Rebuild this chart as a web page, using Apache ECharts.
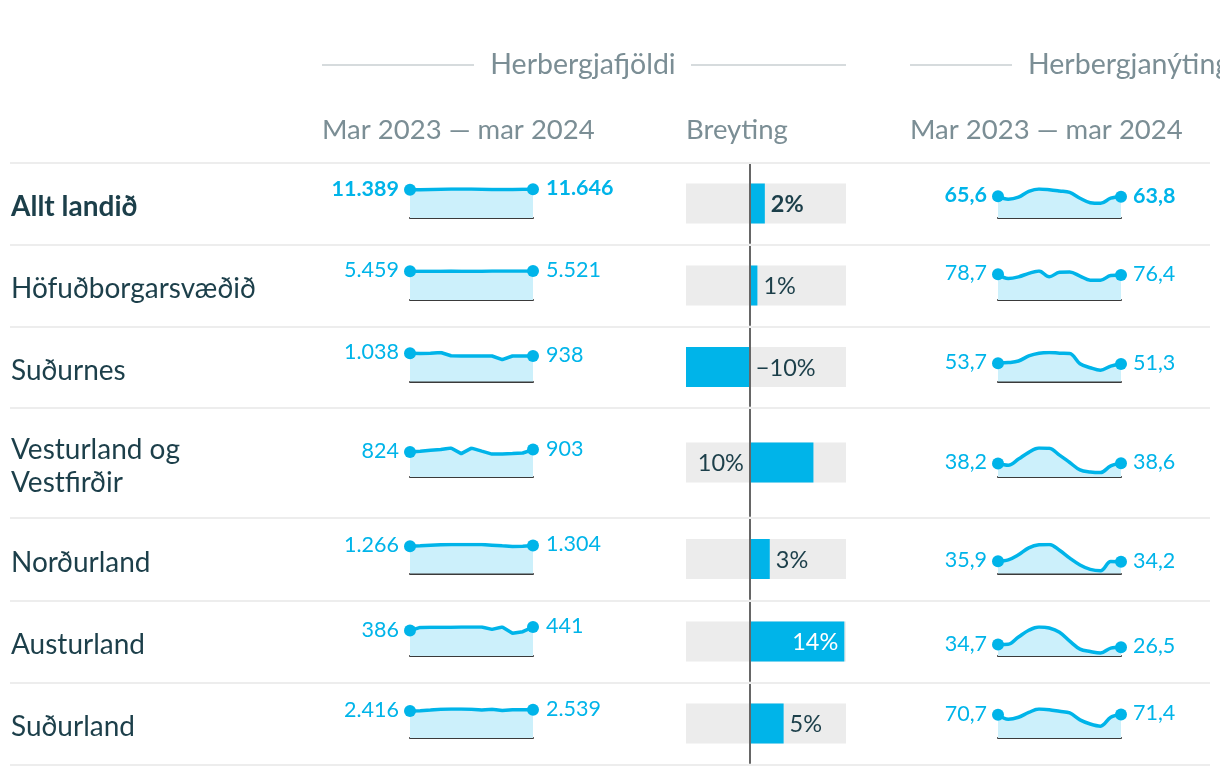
<!DOCTYPE html>
<html>
<head>
<meta charset="utf-8">
<script src="https://cdn.jsdelivr.net/npm/echarts@6/dist/echarts.min.js"></script>
<style>
  html, body { margin: 0; padding: 0; background: #ffffff; }
  #chart { width: 1220px; height: 776px; }
</style>
</head>
<body>
<div id="chart"></div>
<script>
// ---------------- DATA ----------------
const months = ['mar 2023','apr','maí','jún','júl','ágú','sep','okt','nóv','des','jan 2024','feb','mar 2024'];
const regions = ['Allt landið','Höfuðborgarsvæðið','Suðurnes','Vesturland og\nVestfirðir','Norðurland','Austurland','Suðurland'];

// Herbergjafjöldi (room count), mar 2023 – mar 2024
const roomsAllt      = [11389, 11450, 11550, 11650, 11700, 11720, 11700, 11650, 11520, 11490, 11530, 11600, 11646];
const roomsHofud     = [5459, 5470, 5480, 5490, 5500, 5485, 5475, 5485, 5500, 5510, 5500, 5510, 5521];
const roomsSudurnes  = [1038, 1025, 1035, 1064, 945, 940, 940, 938, 936, 800, 936, 938, 938];
const roomsVestur    = [824, 850, 880, 905, 955, 770, 950, 850, 755, 760, 770, 790, 903];
const roomsNordur    = [1266, 1290, 1320, 1345, 1352, 1352, 1350, 1350, 1320, 1290, 1262, 1270, 1304];
const roomsAustur    = [386, 435, 437, 436, 438, 440, 441, 441, 405, 441, 345, 370, 441];
const roomsSudur     = [2416, 2450, 2500, 2580, 2600, 2595, 2580, 2500, 2580, 2460, 2540, 2540, 2539];

// Herbergjanýting (occupancy %), mar 2023 – mar 2024
const occAllt        = [65.6, 56.4, 62.5, 79.6, 87.0, 84.8, 81.0, 76.6, 59.4, 46.0, 44.0, 59.4, 63.8];
const occHofud       = [78.7, 65.7, 70.7, 81.3, 88.5, 70.7, 84.4, 85.4, 72.9, 60.4, 60.4, 75.0, 76.4];
const occSudurnes    = [53.7, 55.4, 60.0, 74.8, 83.0, 85.0, 83.0, 82.0, 52.0, 40.4, 33.0, 45.0, 51.3];
const occVestur      = [38.2, 33.4, 50.6, 69.7, 82.0, 81.0, 62.0, 41.0, 20.0, 14.3, 12.6, 31.4, 38.6];
const occNordur      = [35.9, 40.0, 55.0, 75.0, 84.0, 85.0, 68.0, 45.0, 25.0, 12.0, 8.0, 35.0, 34.2];
const occAustur      = [34.7, 35.5, 57.6, 78.0, 88.0, 85.0, 72.0, 45.0, 21.0, 13.7, 9.0, 24.0, 26.5];
const occSudur       = [70.7, 57.0, 63.0, 77.5, 88.0, 86.0, 81.0, 76.0, 55.0, 42.5, 36.0, 63.0, 71.4];

const headerGroups = ['Herbergjafjöldi', 'Herbergjanýting'];
const periodLabel = 'Mar 2023 — mar 2024';
const changeLabel = 'Breyting';

// ---------------- BUILD ----------------
const roomsData = [roomsAllt, roomsHofud, roomsSudurnes, roomsVestur, roomsNordur, roomsAustur, roomsSudur];
const occData = [occAllt, occHofud, occSudurnes, occVestur, occNordur, occAustur, occSudur];
const changes = roomsData.map(a => (a[a.length - 1] / a[0] - 1) * 100);

const CYAN = '#00b4e9';
const FILL = '#ccf0fb';
const DARK = '#1c3f4a';
const GREY_TEXT = '#7b8e95';
const FONT = 'Lato';

const rowEdges = [163, 245, 327, 408, 518, 601, 683, 765];

const fmtRooms = v => String(Math.round(v)).replace(/\B(?=(\d{3})+(?!\d))/g, '.');
const fmtOcc = v => v.toFixed(1).replace('.', ',');
const fmtPct = v => (Math.round(v) < 0 ? '\u2212' + Math.abs(Math.round(v)) : Math.round(v)) + '%';

const grids = [], xAxes = [], yAxes = [], series = [], graphics = [];

function sparkItems(arr, fmt, bold, rDist) {
  const n = arr.length;
  return arr.map((v, i) => {
    if (i === 0 || i === n - 1) {
      return {
        value: v,
        symbol: 'circle',
        symbolSize: 12,
        label: {
          show: true,
          position: i === 0 ? 'left' : 'right',
          distance: i === 0 ? 5 : rDist,
          formatter: p => fmt(p.value),
          color: CYAN,
          fontFamily: FONT,
          fontSize: 21.5,
          fontWeight: bold ? 'bold' : 'normal',
          offset: [0, -1]
        }
      };
    }
    return { value: v, symbol: 'none' };
  });
}

function addSpark(r, left, arr, fmt, smooth, rDist) {
  const center = (rowEdges[r] + rowEdges[r + 1]) / 2;
  const gi = grids.length;
  grids.push({ left: left, width: 123, top: center - 15, height: 29, containLabel: false });
  xAxes.push({
    type: 'category', gridIndex: gi, data: months, boundaryGap: false,
    axisLine: { show: true, lineStyle: { color: '#3a3a3a', width: 2 } },
    axisTick: { show: false }, axisLabel: { show: false }, splitLine: { show: false }
  });
  yAxes.push({
    type: 'value', gridIndex: gi, min: 0, max: 'dataMax',
    axisLine: { show: false }, axisTick: { show: false }, axisLabel: { show: false }, splitLine: { show: false }
  });
  series.push({
    type: 'line', xAxisIndex: gi, yAxisIndex: gi,
    data: sparkItems(arr, fmt, r === 0, rDist),
    smooth: smooth,
    showAllSymbol: true,
    lineStyle: { color: CYAN, width: 3.5 },
    itemStyle: { color: CYAN },
    areaStyle: { color: FILL, opacity: 1 },
    emphasis: { disabled: true },
    silent: true,
    animation: false,
    z: 3
  });
}

const chMin = Math.min.apply(null, changes);

for (let r = 0; r < regions.length; r++) {
  const top = rowEdges[r], bottom = rowEdges[r + 1];
  const center = (top + bottom) / 2;

  // row label
  graphics.push({
    type: 'text', x: 11, y: center + 3,
    style: {
      text: regions[r], fill: DARK, font: (r === 0 ? 'bold ' : '') + '28px ' + FONT,
      lineHeight: 33, align: 'left', verticalAlign: 'middle'
    }
  });

  // sparklines
  addSpark(r, 410, roomsData[r], fmtRooms, false, 7);
  addSpark(r, 998, occData[r], fmtOcc, 0.35, 6);

  // change bar
  const gi = grids.length;
  grids.push({ left: 686, width: 160, top: top + 1, height: bottom - top - 3 });
  xAxes.push({
    type: 'value', gridIndex: gi, min: chMin, max: 14.5,
    axisLine: { show: false }, axisTick: { show: false }, axisLabel: { show: false }, splitLine: { show: false }
  });
  yAxes.push({
    type: 'category', gridIndex: gi, data: [regions[r]],
    axisLine: { show: true, onZero: true, lineStyle: { color: '#666666', width: 2 } },
    axisTick: { show: false }, axisLabel: { show: false }, splitLine: { show: false }, z: 5
  });
  const v = changes[r];
  let pos = 'right', col = DARK;
  if (v > 12) { pos = 'insideRight'; col = '#ffffff'; }
  else if (v > 8) { pos = 'left'; }
  series.push({
    type: 'bar', xAxisIndex: gi, yAxisIndex: gi,
    data: [v], barWidth: 40,
    showBackground: true,
    backgroundStyle: { color: '#ececec' },
    itemStyle: { color: CYAN },
    label: {
      show: true, position: pos, distance: 6, color: col,
      fontFamily: FONT, fontSize: 23.5, fontWeight: r === 0 ? 'bold' : 'normal',
      formatter: p => fmtPct(p.value), offset: [0, 1]
    },
    emphasis: { disabled: true },
    silent: true,
    animation: false
  });
}

// separators
for (let i = 0; i < rowEdges.length; i++) {
  graphics.push({
    type: 'line', shape: { x1: 10, y1: rowEdges[i], x2: 1210, y2: rowEdges[i] },
    style: { stroke: '#ededed', lineWidth: 2 }, z: 10
  });
}

// headers
graphics.push({ type: 'line', shape: { x1: 322, y1: 65, x2: 474, y2: 65 }, style: { stroke: '#c8cfd2', lineWidth: 1.5 } });
graphics.push({ type: 'line', shape: { x1: 691, y1: 65, x2: 846, y2: 65 }, style: { stroke: '#c8cfd2', lineWidth: 1.5 } });
graphics.push({ type: 'line', shape: { x1: 910, y1: 65, x2: 1012, y2: 65 }, style: { stroke: '#c8cfd2', lineWidth: 1.5 } });
const HF = '28.5px ' + FONT;
const SF = '27.5px ' + FONT;
graphics.push({ type: 'text', x: 583, y: 65, style: { text: headerGroups[0], fill: GREY_TEXT, font: HF, align: 'center', verticalAlign: 'middle' } });
graphics.push({ type: 'text', x: 1028, y: 65, style: { text: headerGroups[1], fill: GREY_TEXT, font: HF, align: 'left', verticalAlign: 'middle' } });
graphics.push({ type: 'text', x: 322, y: 130, style: { text: periodLabel, fill: GREY_TEXT, font: SF, align: 'left', verticalAlign: 'middle' } });
graphics.push({ type: 'text', x: 686, y: 130, style: { text: changeLabel, fill: GREY_TEXT, font: SF, align: 'left', verticalAlign: 'middle' } });
graphics.push({ type: 'text', x: 910, y: 130, style: { text: periodLabel, fill: GREY_TEXT, font: SF, align: 'left', verticalAlign: 'middle' } });

const chart = echarts.init(document.getElementById('chart'), null, { renderer: 'canvas' });
chart.setOption({
  backgroundColor: '#ffffff',
  animation: false,
  grid: grids,
  xAxis: xAxes,
  yAxis: yAxes,
  series: series,
  graphic: graphics
});
</script>
</body>
</html>
